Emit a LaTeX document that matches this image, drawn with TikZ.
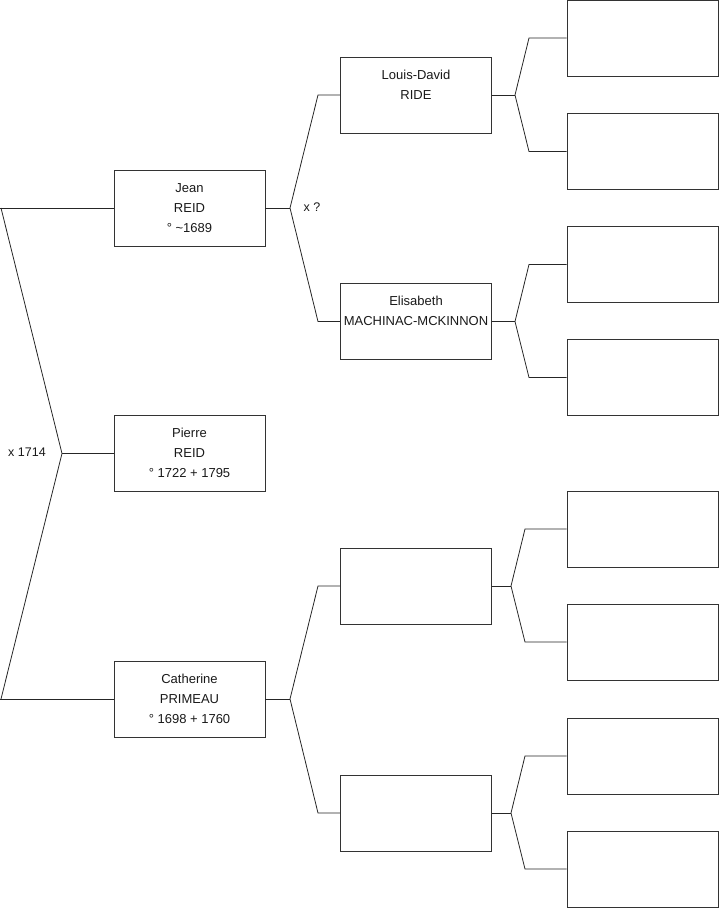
\documentclass[tikz,border=0pt]{standalone}
\usepackage{fontspec}
\setmainfont{Liberation Sans}
\newcommand{\pbox}[1]{\raisebox{1.5pt}{\begin{tabular}{@{}c@{}}#1\end{tabular}}}
\begin{document}
\begin{tikzpicture}[x=1pt,y=-1pt,
  person/.style={draw=black!80,line width=0.8pt,minimum width=151pt,minimum height=76pt,
    inner sep=0pt,align=center,font=\fontsize{13}{20}\selectfont,text=black!90},
  link/.style={draw=black!85,line width=0.8pt},
  lbl/.style={font=\fontsize{12.5}{14}\selectfont,inner sep=0pt,text=black!90}]
\useasboundingbox (0,0) rectangle (719,908);
% level 1
\node[person] (jean) at (189.5,208) {\pbox{Jean\\REID\\° \textasciitilde1689}};
\node[person] (pierre) at (189.5,453.5) {\pbox{Pierre\\REID\\° 1722 + 1795}};
\node[person] (cath) at (189.5,699) {\pbox{Catherine\\PRIMEAU\\° 1698 + 1760}};
% level 2
\node[person] (ld) at (416,95) {\pbox{Louis-David\\RIDE\\\strut}};
\node[person] (eli) at (416,321.5) {\pbox{Elisabeth\\MACHINAC-MCKINNON\\\strut}};
\node[person] (c1) at (416,586) {};
\node[person] (c2) at (416,813) {};
% level 3
\node[person] (g1) at (642.5,38) {};
\node[person] (g2) at (642.5,151.5) {};
\node[person] (g3) at (642.5,264.5) {};
\node[person] (g4) at (642.5,377.5) {};
\node[person] (g5) at (642.5,529) {};
\node[person] (g6) at (642.5,642) {};
\node[person] (g7) at (642.5,756) {};
\node[person] (g8) at (642.5,869) {};
% level 1 fork
\coordinate (l1a) at (0,208);
\coordinate (l1b) at (1,208);
\coordinate (l1f) at (62,453.5);
\coordinate (l1c) at (1,699);
\coordinate (l1d) at (0,699);
\draw[link] (jean.west) -- (l1a);
\draw[link] (l1b) -- (l1f) -- (l1c);
\draw[link] (cath.west) -- (l1d);
\draw[link] (pierre.west) -- (l1f);
\node[lbl] (m1) at (27,452) {x 1714};
% level 2 forks
\coordinate (f2a) at (290,208);
\draw[link] (jean.east) -- (f2a);
\draw[link] (ld.west) -- (318,95) -- (f2a) -- (318,321.5) -- (eli.west);
\node[lbl] (m2) at (312,207) {x ?};
\coordinate (f2b) at (290,699);
\draw[link] (cath.east) -- (f2b);
\draw[link] (c1.west) -- (318,586) -- (f2b) -- (318,813) -- (c2.west);
% level 3 forks
\coordinate (f3a) at (515,95);
\draw[link] (ld.east) -- (f3a);
\draw[link] (g1.west) -- (529,38) -- (f3a) -- (529,151.5) -- (g2.west);
\coordinate (f3b) at (515,321.5);
\draw[link] (eli.east) -- (f3b);
\draw[link] (g3.west) -- (529,264.5) -- (f3b) -- (529,377.5) -- (g4.west);
\coordinate (f3c) at (511,586);
\draw[link] (c1.east) -- (f3c);
\draw[link] (g5.west) -- (525,529) -- (f3c) -- (525,642) -- (g6.west);
\coordinate (f3d) at (511,813);
\draw[link] (c2.east) -- (f3d);
\draw[link] (g7.west) -- (525,756) -- (f3d) -- (525,869) -- (g8.west);
\end{tikzpicture}
\end{document}
